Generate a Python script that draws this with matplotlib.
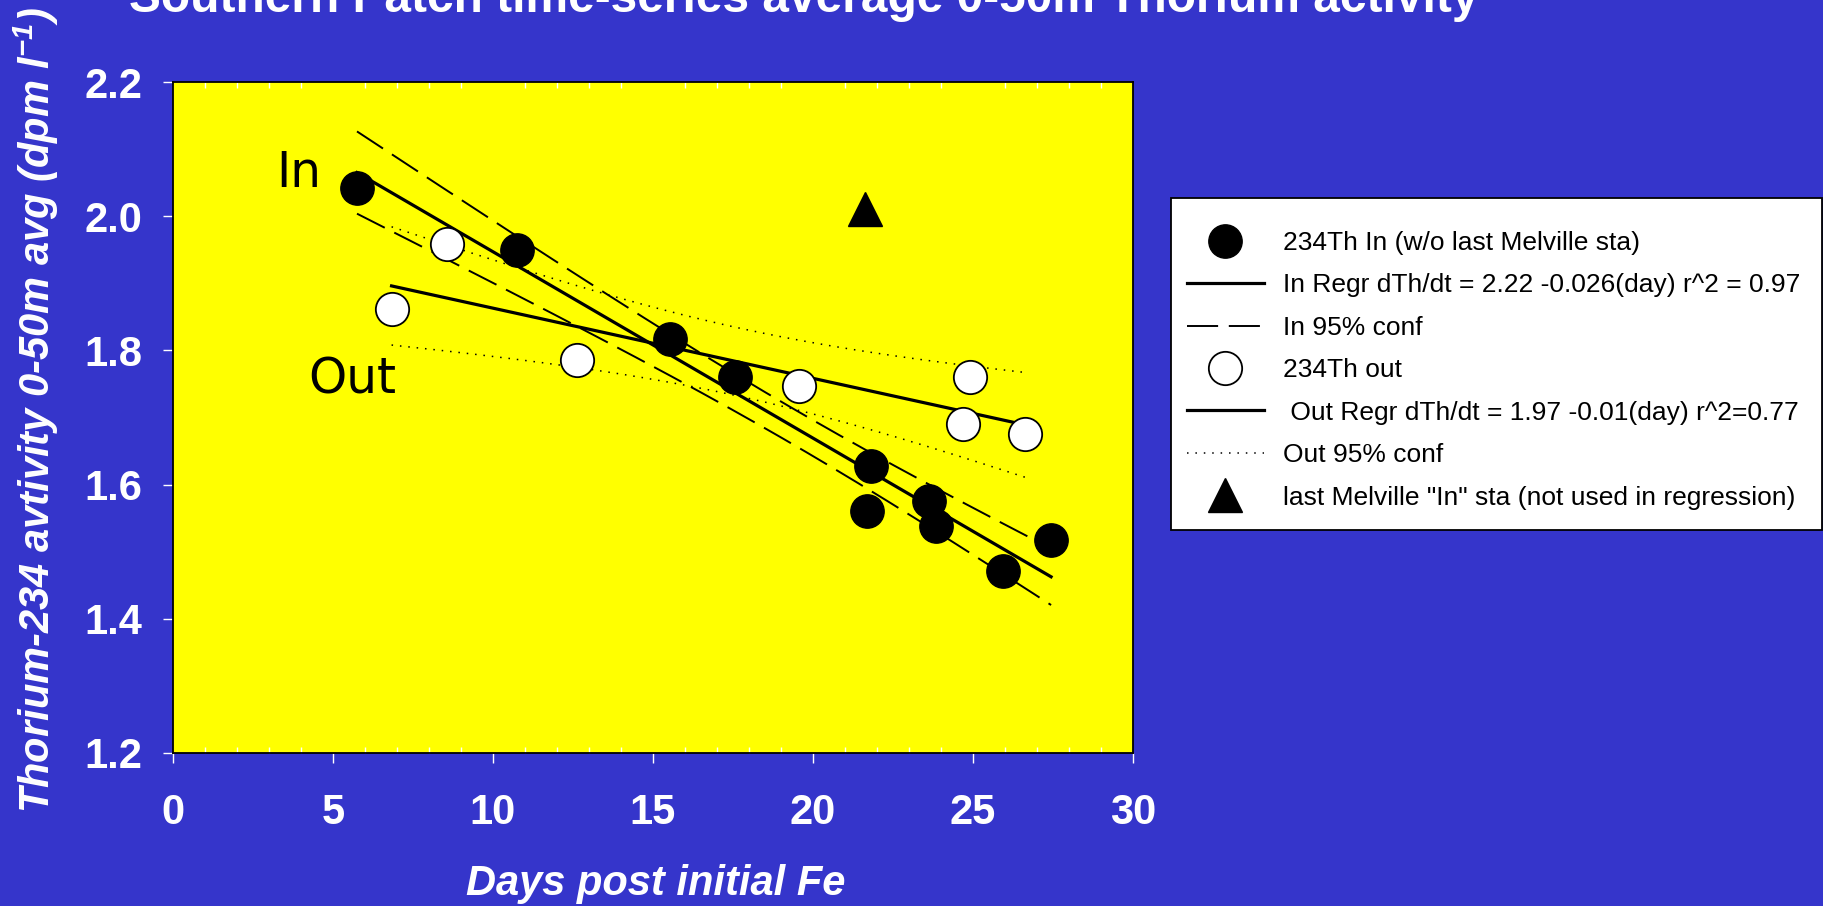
import numpy as np
import matplotlib
matplotlib.use("Agg")
import matplotlib.pyplot as plt
from matplotlib.patches import Rectangle
from matplotlib.ticker import FixedLocator, MultipleLocator, FormatStrFormatter

# ---------------- data ----------------
in_days = [5.75, 10.75, 15.54, 17.56, 21.80, 21.70, 23.64, 23.84, 25.95, 27.44]
in_th = [2.042, 1.950, 1.817, 1.760, 1.628, 1.561, 1.576, 1.538, 1.471, 1.517]
out_days = [6.83, 8.56, 12.63, 19.57, 24.68, 24.90, 26.62]
out_th = [1.861, 1.958, 1.786, 1.747, 1.690, 1.760, 1.676]
last_days = [21.64]
last_th = [2.010]
t_crit_in = 2.306   # Student t (0.975, df=8)
t_crit_out = 2.571  # Student t (0.975, df=5)

x_ticks = [0, 5, 10, 15, 20, 25, 30]
y_ticks = [1.2, 1.4, 1.6, 1.8, 2.0, 2.2]

title = "Southern Patch time-series average 0-50m Thorium activity"
xlabel = "Days post initial Fe"
ylabel = r"Thorium-234 avtivity 0-50m avg (dpm l$^{-1}$)"
leg_labels = [
    "234Th In (w/o last Melville sta)",
    "In Regr dTh/dt = 2.22 -0.026(day) r^2 = 0.97",
    "In 95% conf",
    "234Th out",
    " Out Regr dTh/dt = 1.97 -0.01(day) r^2=0.77",
    "Out 95% conf",
    'last Melville "In" sta (not used in regression)',
]

BLUE = "#3535CB"
YELLOW = "#FFFF00"

plt.rcParams["font.family"] = ["Liberation Sans", "DejaVu Sans"]
plt.rcParams["mathtext.fontset"] = "custom"
plt.rcParams["mathtext.rm"] = "Liberation Sans:bold:italic"
plt.rcParams["mathtext.it"] = "Liberation Sans:bold:italic"
plt.rcParams["mathtext.bf"] = "Liberation Sans:bold:italic"


def regression(x, y, tcrit):
    x = np.asarray(x, float)
    y = np.asarray(y, float)
    n = len(x)
    slope, icpt = np.polyfit(x, y, 1)
    xs = np.linspace(x.min(), x.max(), 200)
    yhat = icpt + slope * xs
    resid = y - (icpt + slope * x)
    s = np.sqrt(np.sum(resid ** 2) / (n - 2))
    sxx = np.sum((x - x.mean()) ** 2)
    hw = tcrit * s * np.sqrt(1.0 / n + (xs - x.mean()) ** 2 / sxx)
    return xs, yhat, yhat - hw, yhat + hw


fig = plt.figure(figsize=(18.24, 9.06), dpi=100, facecolor=BLUE)
ax = fig.add_axes([173 / 1824, 1 - 753 / 906, 960 / 1824, 671 / 906])
ax.set_facecolor(YELLOW)

xi, yi, loi, hii = regression(in_days, in_th, t_crit_in)
xo, yo, loo, hio = regression(out_days, out_th, t_crit_out)

dash = (16, 5.5)
dot = (0, (1, 4.5))
h_in_reg, = ax.plot(xi, yi, color="black", lw=2.3, zorder=3)
h_in_conf, = ax.plot(xi, hii, color="black", lw=1.4, dashes=dash, zorder=3)
ax.plot(xi, loi, color="black", lw=1.4, dashes=dash, zorder=3)
h_out_reg, = ax.plot(xo, yo, color="black", lw=2.3, zorder=3)
h_out_conf, = ax.plot(xo, hio, color="black", lw=1.1, linestyle=dot, zorder=3)
ax.plot(xo, loo, color="black", lw=1.1, linestyle=dot, zorder=3)

h_out, = ax.plot(out_days, out_th, "o", ms=24, mfc="white", mec="black", mew=1.3, zorder=5)
h_in, = ax.plot(in_days, in_th, "o", ms=24, mfc="black", mec="black", mew=1.0, zorder=6)
h_last, = ax.plot(last_days, last_th, "^", ms=24, mfc="black", mec="black", zorder=6)

ax.text(3.22, 2.044, "In", fontsize=35, family="DejaVu Sans", va="baseline", ha="left", color="black")
ax.text(4.22, 1.7365, "Out", fontsize=35, family="DejaVu Sans", va="baseline", ha="left", color="black")

ax.set_xlim(0, 30)
ax.set_ylim(1.2, 2.2)
ax.xaxis.set_major_locator(FixedLocator(x_ticks))
ax.xaxis.set_minor_locator(MultipleLocator(1))
ax.yaxis.set_major_locator(FixedLocator(y_ticks))
ax.yaxis.set_major_formatter(FormatStrFormatter("%.1f"))

ax.tick_params(axis="x", which="major", direction="out", length=7.2, width=1.0,
               color="white", labelcolor="white", labelsize=30, pad=21.5,
               bottom=True, top=False)
ax.tick_params(axis="x", which="minor", direction="in", length=4.5, width=1.0,
               color="white", bottom=True, top=True)
ax.tick_params(axis="y", which="major", direction="out", length=7.2, width=1.0,
               color="white", labelcolor="white", labelsize=30, pad=15,
               left=True, right=False)
for lab in ax.get_xticklabels() + ax.get_yticklabels():
    lab.set_fontweight("bold")
for sp in ax.spines.values():
    sp.set_color("black")
    sp.set_linewidth(1.3)

fig.text(129 / 1824, 1 - 12 / 906, title, fontsize=34.5, fontweight="bold",
         color="white", ha="left", va="baseline")
fig.text(656 / 1824, 1 - 895 / 906, xlabel, fontsize=30, fontweight="bold",
         style="italic", color="white", ha="center", va="baseline")
fig.text(50 / 1824, 1 - 410 / 906, ylabel, fontsize=30, fontweight="bold",
         style="italic", color="white", ha="center", va="baseline",
         rotation=90, rotation_mode="anchor")

# legend box (layout element) and legend entries
box = Rectangle((1171 / 1824, 1 - 530 / 906), 651 / 1824, 332 / 906,
                transform=fig.transFigure, facecolor="white", edgecolor="black",
                linewidth=1.3, zorder=1)
fig.add_artist(box)

handles = [h_in, h_in_reg, h_in_conf, h_out, h_out_reg, h_out_conf, h_last]
leg = fig.legend(handles, leg_labels, loc="upper left",
                 bbox_to_anchor=(1171 / 1824, 1 - 215 / 906),
                 bbox_transform=fig.transFigure, fontsize=19, frameon=False,
                 borderpad=0.6, labelspacing=0.70,
                 handlelength=2.92, handletextpad=0.72, borderaxespad=0,
                 numpoints=1)
leg.set_zorder(2)

fig.savefig("out.png", dpi=100, facecolor=BLUE)
